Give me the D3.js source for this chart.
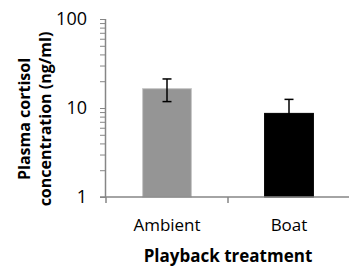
<!DOCTYPE html>
<html>
<head>
<meta charset="utf-8">
<script src="https://cdn.jsdelivr.net/npm/d3@7"></script>
<style>
html,body{margin:0;padding:0;background:#fff;}
svg{display:block;}
</style>
</head>
<body>
<svg id="chart" width="349" height="266"></svg>
<script>
const categories = ["Ambient", "Boat"];
const means = [16.5, 8.7];
const errors = [4.7, 3.8];
const barColors = ["#959595", "#000000"];
const yTickLabels = [1, 10, 100];
const yMinorTicks = [1,2,3,4,5,6,7,8,9,10,20,30,40,50,60,70,80,90,100];

const svg = d3.select("#chart");
const font = "'Open Sans', sans-serif";
const plotLeft = 106, plotRight = 350, plotTop = 19, plotBottom = 197;
const axisColor = "#868686";

const x = d3.scaleBand().domain(categories).range([plotLeft, plotRight]).paddingInner(0).paddingOuter(0);
const barW = x.bandwidth() * 0.4;
const y = d3.scaleLog().domain([1, 100]).range([plotBottom, plotTop]);

// Y axis
const yAxis = d3.axisLeft(y).tickValues(yMinorTicks).tickSize(6).tickPadding(13)
  .tickFormat(d => yTickLabels.includes(d) ? d : "");
const gy = svg.append("g").attr("transform", `translate(${plotLeft},0)`).call(yAxis);
gy.select(".domain").attr("stroke", axisColor).attr("stroke-width", 1.5).attr("d", `M-0.5,${plotBottom}V${plotTop}`);
gy.selectAll(".tick line").attr("stroke", axisColor).attr("stroke-width", 1);
gy.selectAll(".tick text").attr("fill", "#000").style("font-family", font).style("font-size", "18px");

// bars
svg.selectAll("rect.bar").data(categories).enter().append("rect")
  .attr("class", "bar")
  .attr("x", d => x(d) + (x.bandwidth() - barW) / 2)
  .attr("width", barW)
  .attr("y", (d, i) => y(means[i]))
  .attr("height", (d, i) => plotBottom - y(means[i]))
  .attr("fill", (d, i) => barColors[i])
  .attr("stroke", (d, i) => i === 0 ? "#c8c8c8" : "#000")
  .attr("stroke-width", 1);

// X axis
const gx = svg.append("g");
gx.append("line").attr("x1", plotLeft - 6).attr("x2", plotRight).attr("y1", plotBottom).attr("y2", plotBottom)
  .attr("stroke", axisColor).attr("stroke-width", 1.5);
const bounds = [plotLeft, x("Boat"), plotRight];
gx.selectAll("line.xt").data(bounds).enter().append("line")
  .attr("x1", d => d).attr("x2", d => d).attr("y1", plotBottom).attr("y2", plotBottom + 6)
  .attr("stroke", axisColor).attr("stroke-width", 1.5);
gx.selectAll("text").data(categories).enter().append("text")
  .attr("x", d => x(d) + x.bandwidth() / 2).attr("y", 231)
  .attr("text-anchor", "middle").style("font-family", font).style("font-size", "17px")
  .text(d => d);

// error bars
const eb = svg.append("g").attr("stroke", "#000").attr("stroke-width", 1.5);
categories.forEach((c, i) => {
  const cx = x(c) + x.bandwidth() / 2;
  const y1 = y(means[i] + errors[i]), y0 = y(means[i] - errors[i]);
  eb.append("line").attr("x1", cx).attr("x2", cx).attr("y1", y1).attr("y2", y0);
  eb.append("line").attr("x1", cx - 4.5).attr("x2", cx + 4.5).attr("y1", y1).attr("y2", y1);
  eb.append("line").attr("x1", cx - 4.5).attr("x2", cx + 4.5).attr("y1", y0).attr("y2", y0);
});

// titles
svg.append("text").attr("x", 228).attr("y", 262).attr("text-anchor", "middle")
  .style("font-family", font).style("font-size", "17px").style("font-weight", "bold")
  .text("Playback treatment");
const yt = svg.append("text").attr("transform", "translate(0,119) rotate(-90)")
  .attr("text-anchor", "middle").style("font-family", font).style("font-size", "16px").style("font-weight", "bold");
yt.append("tspan").attr("x", 0).attr("y", 30).text("Plasma cortisol");
yt.append("tspan").attr("x", 0).attr("y", 51).text("concentration (ng/ml)");
</script>
</body>
</html>
